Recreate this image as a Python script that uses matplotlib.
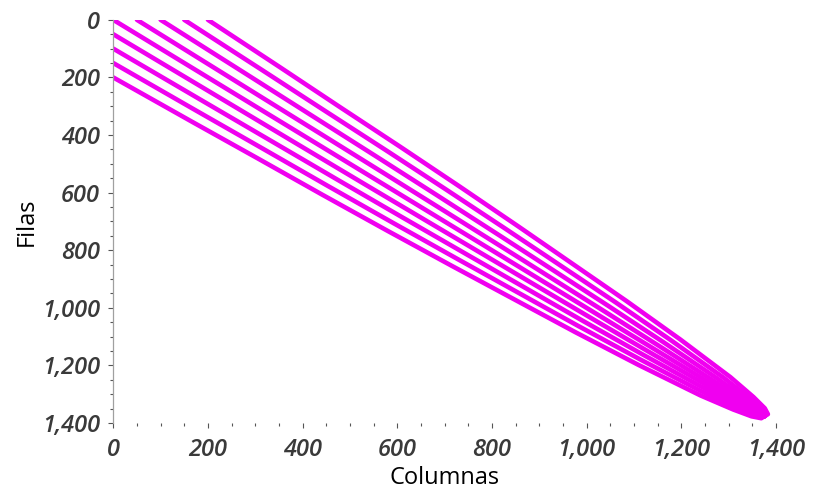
import numpy as np
import matplotlib
matplotlib.use("Agg")
import matplotlib.pyplot as plt
from matplotlib.ticker import MultipleLocator, FuncFormatter

# Sparsity pattern: banded matrix whose off-diagonal bands taper into the
# last row/column.
matrix_size = 1376
band_offsets = [-200, -150, -100, -50, 0, 50, 100, 150, 200]   # >0: above diagonal
# remaining fraction of each band's offset along the diagonal (0 = first row, 1 = last)
taper_pos = [0.0, 0.1, 0.2, 0.3, 0.4, 0.5, 0.6, 0.7, 0.8, 0.9, 0.95, 0.98, 0.995, 1.0]
taper_frac = [1.0, 0.95, 0.89, 0.84, 0.78, 0.71, 0.63, 0.55, 0.45, 0.32, 0.22, 0.14, 0.07, 0.0]

x_ticks = [0, 200, 400, 600, 800, 1000, 1200, 1400]
y_ticks = [0, 200, 400, 600, 800, 1000, 1200, 1400]
x_label = "Columnas"
y_label = "Filas"

mark_color = "#f000f0"
tick_font = "Open Sans"

fig = plt.figure(figsize=(8.15, 4.96), dpi=100)
ax = fig.add_axes([0.139, 0.147, 0.813, 0.813])

diag = np.linspace(0, 1, 600)
frac = np.interp(diag, taper_pos, taper_frac)
for k in band_offsets:
    d = diag * matrix_size
    if k >= 0:
        cols, rows = d + k * frac, d
    else:
        cols, rows = d, d - k * frac
    ax.plot(cols, rows, color=mark_color, lw=3.3, solid_capstyle="round")

ax.set_xlim(0, 1400)
ax.set_ylim(1400, 0)
ax.set_xticks(x_ticks)
ax.set_yticks(y_ticks)
ax.xaxis.set_minor_locator(MultipleLocator(50))
ax.yaxis.set_minor_locator(MultipleLocator(50))
fmt = FuncFormatter(lambda v, p: f"{int(v):,}")
ax.xaxis.set_major_formatter(fmt)
ax.yaxis.set_major_formatter(fmt)

for s in ("top", "right", "bottom"):
    ax.spines[s].set_visible(False)
ax.spines["left"].set_color("#a0a0a0")
ax.spines["left"].set_linewidth(0.9)

ax.tick_params(which="major", length=3.6, width=0.8, color="#555555")
ax.tick_params(which="minor", length=2.2, width=0.8, color="#555555")
ax.tick_params(axis="x", which="major", pad=7)
ax.tick_params(axis="y", which="major", pad=6)

for lab in ax.get_xticklabels() + ax.get_yticklabels():
    lab.set_fontfamily(tick_font)
    lab.set_fontstyle("italic")
    lab.set_fontweight("semibold")
    lab.set_fontsize(17)
    lab.set_color("#3a3a3a")

ax.set_xlabel(x_label, fontsize=17, family="Open Sans", fontweight="medium",
              color="black", labelpad=3)
ax.set_ylabel(y_label, fontsize=17, family="Open Sans", fontweight="medium",
              color="black", labelpad=2)

fig.savefig("out.png", dpi=100, facecolor="white")
